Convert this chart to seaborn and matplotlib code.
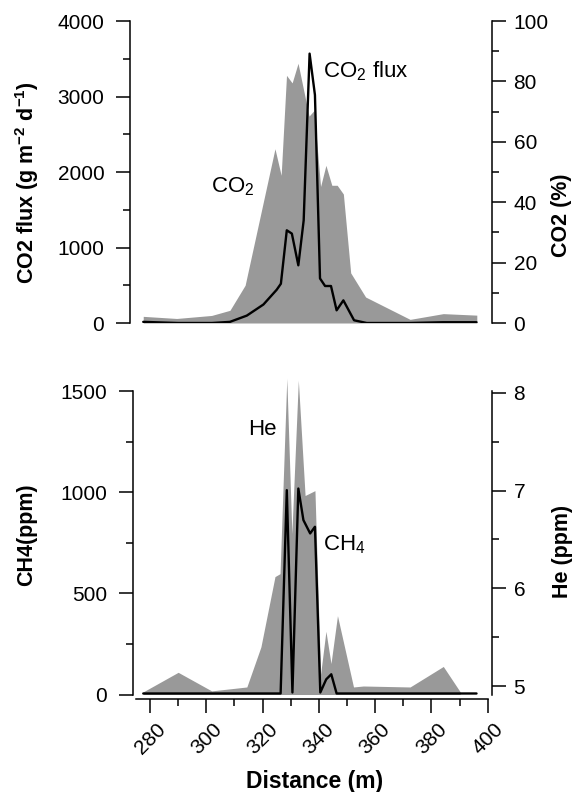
import matplotlib
matplotlib.use("Agg")
import matplotlib.pyplot as plt
import seaborn as sns
from matplotlib.ticker import MultipleLocator

# ---------------------------------------------------------
# Data
# ---------------------------------------------------------
# Top panel: CO2 concentration (%) – grey area, right axis
co2_x = [277.6, 289.5, 301.9, 308.4, 313.8, 324.4, 326.6, 328.5, 330.5, 332.6,
         336.5, 338.3, 340.6, 342.5, 344.6, 346.5, 348.7, 351.3, 356.6, 372.4,
         384.2, 396.1]
co2_pct = [2.2, 1.5, 2.5, 4.2, 12.5, 57.7, 48.9, 82.0, 79.5, 86.0,
           68.5, 70.4, 45.2, 52.2, 45.6, 45.6, 42.7, 16.6, 8.6, 1.2,
           3.1, 2.6]

# Top panel: CO2 flux (g m-2 d-1) – black line, left axis
flux_x = [277.6, 290.0, 302.0, 308.4, 314.4, 320.3, 325.0, 326.5, 328.6, 330.4,
          332.7, 334.6, 336.7, 338.6, 340.4, 342.2, 344.3, 346.3, 348.7, 352.5,
          357.0, 372.0, 384.0, 396.0]
flux = [15, 0, 0, 15, 98, 245, 440, 520, 1228, 1184,
        764, 1360, 3568, 3020, 590, 490, 490, 168, 300, 36,
        0, 0, 10, 10]

# Bottom panel: He (ppm) – grey area, right axis
he_x = [277.6, 290.0, 301.9, 314.4, 319.4, 324.4, 326.2, 328.6, 330.4, 332.7,
        335.1, 338.6, 340.6, 342.5, 344.3, 346.6, 352.3, 355.8, 372.4, 384.2,
        390.2]
he = [4.94, 5.14, 4.95, 4.99, 5.40, 6.12, 6.15, 8.15, 6.56, 8.13,
      6.95, 7.00, 5.12, 5.56, 5.23, 5.72, 4.99, 5.00, 4.99, 5.20,
      4.94]

# Bottom panel: CH4 (ppm) – black line, left axis
ch4_x = [277.6, 326.4, 328.6, 330.6, 332.7, 334.5, 336.9, 338.6, 340.5, 342.6,
         344.4, 346.3, 396.0]
ch4 = [5, 5, 1010, 10, 1018, 862, 796, 829, 10, 75,
       100, 5, 5]

FILL = "#999999"
LINE = "black"

sns.set_style("ticks", rc={"axes.edgecolor": "black", "xtick.color": "black",
                           "ytick.color": "black", "text.color": "black",
                           "axes.labelcolor": "black"})
plt.rcParams["font.family"] = ["Liberation Sans", "DejaVu Sans"]
plt.rcParams["mathtext.fontset"] = "custom"
plt.rcParams["mathtext.rm"] = "Liberation Sans"
plt.rcParams["mathtext.it"] = "Liberation Sans:italic"
plt.rcParams["mathtext.bf"] = "Liberation Sans:bold"

TICK_FS = 15
LABEL_FS = 15.5
NOTE_FS = 16

fig = plt.figure(figsize=(5.76, 7.92), dpi=100)


def style_axis(ax, side):
    pad = 8.5 if side == "left" else 5.5
    ax.tick_params(axis="y", which="major", direction="out", length=10, width=1.1,
                   labelsize=TICK_FS, pad=pad)
    ax.tick_params(axis="y", which="minor", direction="out", length=5, width=1.1)
    for s in ["top", "bottom", "left", "right"]:
        ax.spines[s].set_visible(s == side)
        ax.spines[s].set_linewidth(1.1)


# ---------------------------------------------------------
# Top panel
# ---------------------------------------------------------
ax1 = fig.add_axes([130 / 576, 1 - 323 / 792, 362 / 576, 302 / 792])
ax1r = ax1.twinx()

ax1r.fill_between(co2_x, co2_pct, 0, color=FILL, lw=0)
sns.lineplot(x=flux_x, y=flux, ax=ax1, color=LINE, lw=1.7)

ax1.set_zorder(ax1r.get_zorder() + 1)
ax1.patch.set_visible(False)

ax1.set_xlim(272.9, 401.5)
ax1.set_ylim(0, 4000)
ax1r.set_ylim(0, 100)
ax1.yaxis.set_major_locator(MultipleLocator(1000))
ax1.yaxis.set_minor_locator(MultipleLocator(500))
ax1r.yaxis.set_major_locator(MultipleLocator(20))
ax1r.yaxis.set_minor_locator(MultipleLocator(10))
style_axis(ax1, "left")
style_axis(ax1r, "right")
for a in (ax1, ax1r):
    a.tick_params(axis="x", which="both", bottom=False, labelbottom=False)

ax1.set_ylabel(r"CO2 flux (g m$^\mathbf{-2}$ d$^\mathbf{-1}$)",
               fontsize=LABEL_FS, fontweight="bold", va="center")
ax1.yaxis.set_label_coords(-0.285, 0.464)
ax1r.set_ylabel("CO2 (%)", fontsize=LABEL_FS, fontweight="bold", va="center")
ax1r.yaxis.set_label_coords(1.193, 0.358)

ax1.text(341.5, 3254, r"CO$_2$ flux", fontsize=NOTE_FS)
ax1.text(301.7, 1735, r"CO$_2$", fontsize=NOTE_FS)

# ---------------------------------------------------------
# Bottom panel
# ---------------------------------------------------------
ax2 = fig.add_axes([133 / 576, 1 - 694.5 / 792, 359 / 576, 303.5 / 792])
ax2r = ax2.twinx()

ax2r.set_ylim(4.913, 8.02)
# He spikes overshoot the top of the axis in the original, so no clipping
he_area = ax2r.fill_between(he_x, he, ax2r.get_ylim()[0], color=FILL, lw=0)
he_area.set_clip_on(False)
sns.lineplot(x=ch4_x, y=ch4, ax=ax2, color=LINE, lw=1.7)

ax2.set_zorder(ax2r.get_zorder() + 1)
ax2.patch.set_visible(False)

ax2.set_xlim(273.96, 401.5)
ax2.set_ylim(0, 1500)
ax2.yaxis.set_major_locator(MultipleLocator(500))
ax2.yaxis.set_minor_locator(MultipleLocator(250))
ax2r.yaxis.set_major_locator(MultipleLocator(1))
ax2r.yaxis.set_minor_locator(MultipleLocator(0.5))
style_axis(ax2, "left")
style_axis(ax2r, "right")
ax2r.tick_params(axis="x", which="both", bottom=False, labelbottom=False)

ax2.spines["bottom"].set_visible(True)
ax2.spines["bottom"].set_linewidth(1.1)
ax2.spines["bottom"].set_position(("outward", 3))
ax2.spines["bottom"].set_bounds(275, 400)
ax2.xaxis.set_major_locator(MultipleLocator(20))
ax2.xaxis.set_minor_locator(MultipleLocator(10))
ax2.tick_params(axis="x", which="major", direction="out", length=10, width=1.1,
                labelsize=TICK_FS, labelrotation=45, pad=5)
ax2.tick_params(axis="x", which="minor", direction="out", length=5, width=1.1)

ax2.set_ylabel("CH4(ppm)", fontsize=LABEL_FS, fontweight="bold", va="center")
ax2.yaxis.set_label_coords(-0.295, 0.526)
ax2r.set_ylabel("He (ppm)", fontsize=LABEL_FS, fontweight="bold", va="center")
ax2r.yaxis.set_label_coords(1.195, 0.47)
ax2.set_xlabel("Distance (m)", fontsize=LABEL_FS + 1, fontweight="bold", va="center")
ax2.xaxis.set_label_coords(0.507, -0.288)

ax2.text(314.9, 1281, "He", fontsize=NOTE_FS)
ax2.text(341.6, 713, r"CH$_4$", fontsize=NOTE_FS)

fig.savefig("out.png", dpi=100)
plt.close(fig)
